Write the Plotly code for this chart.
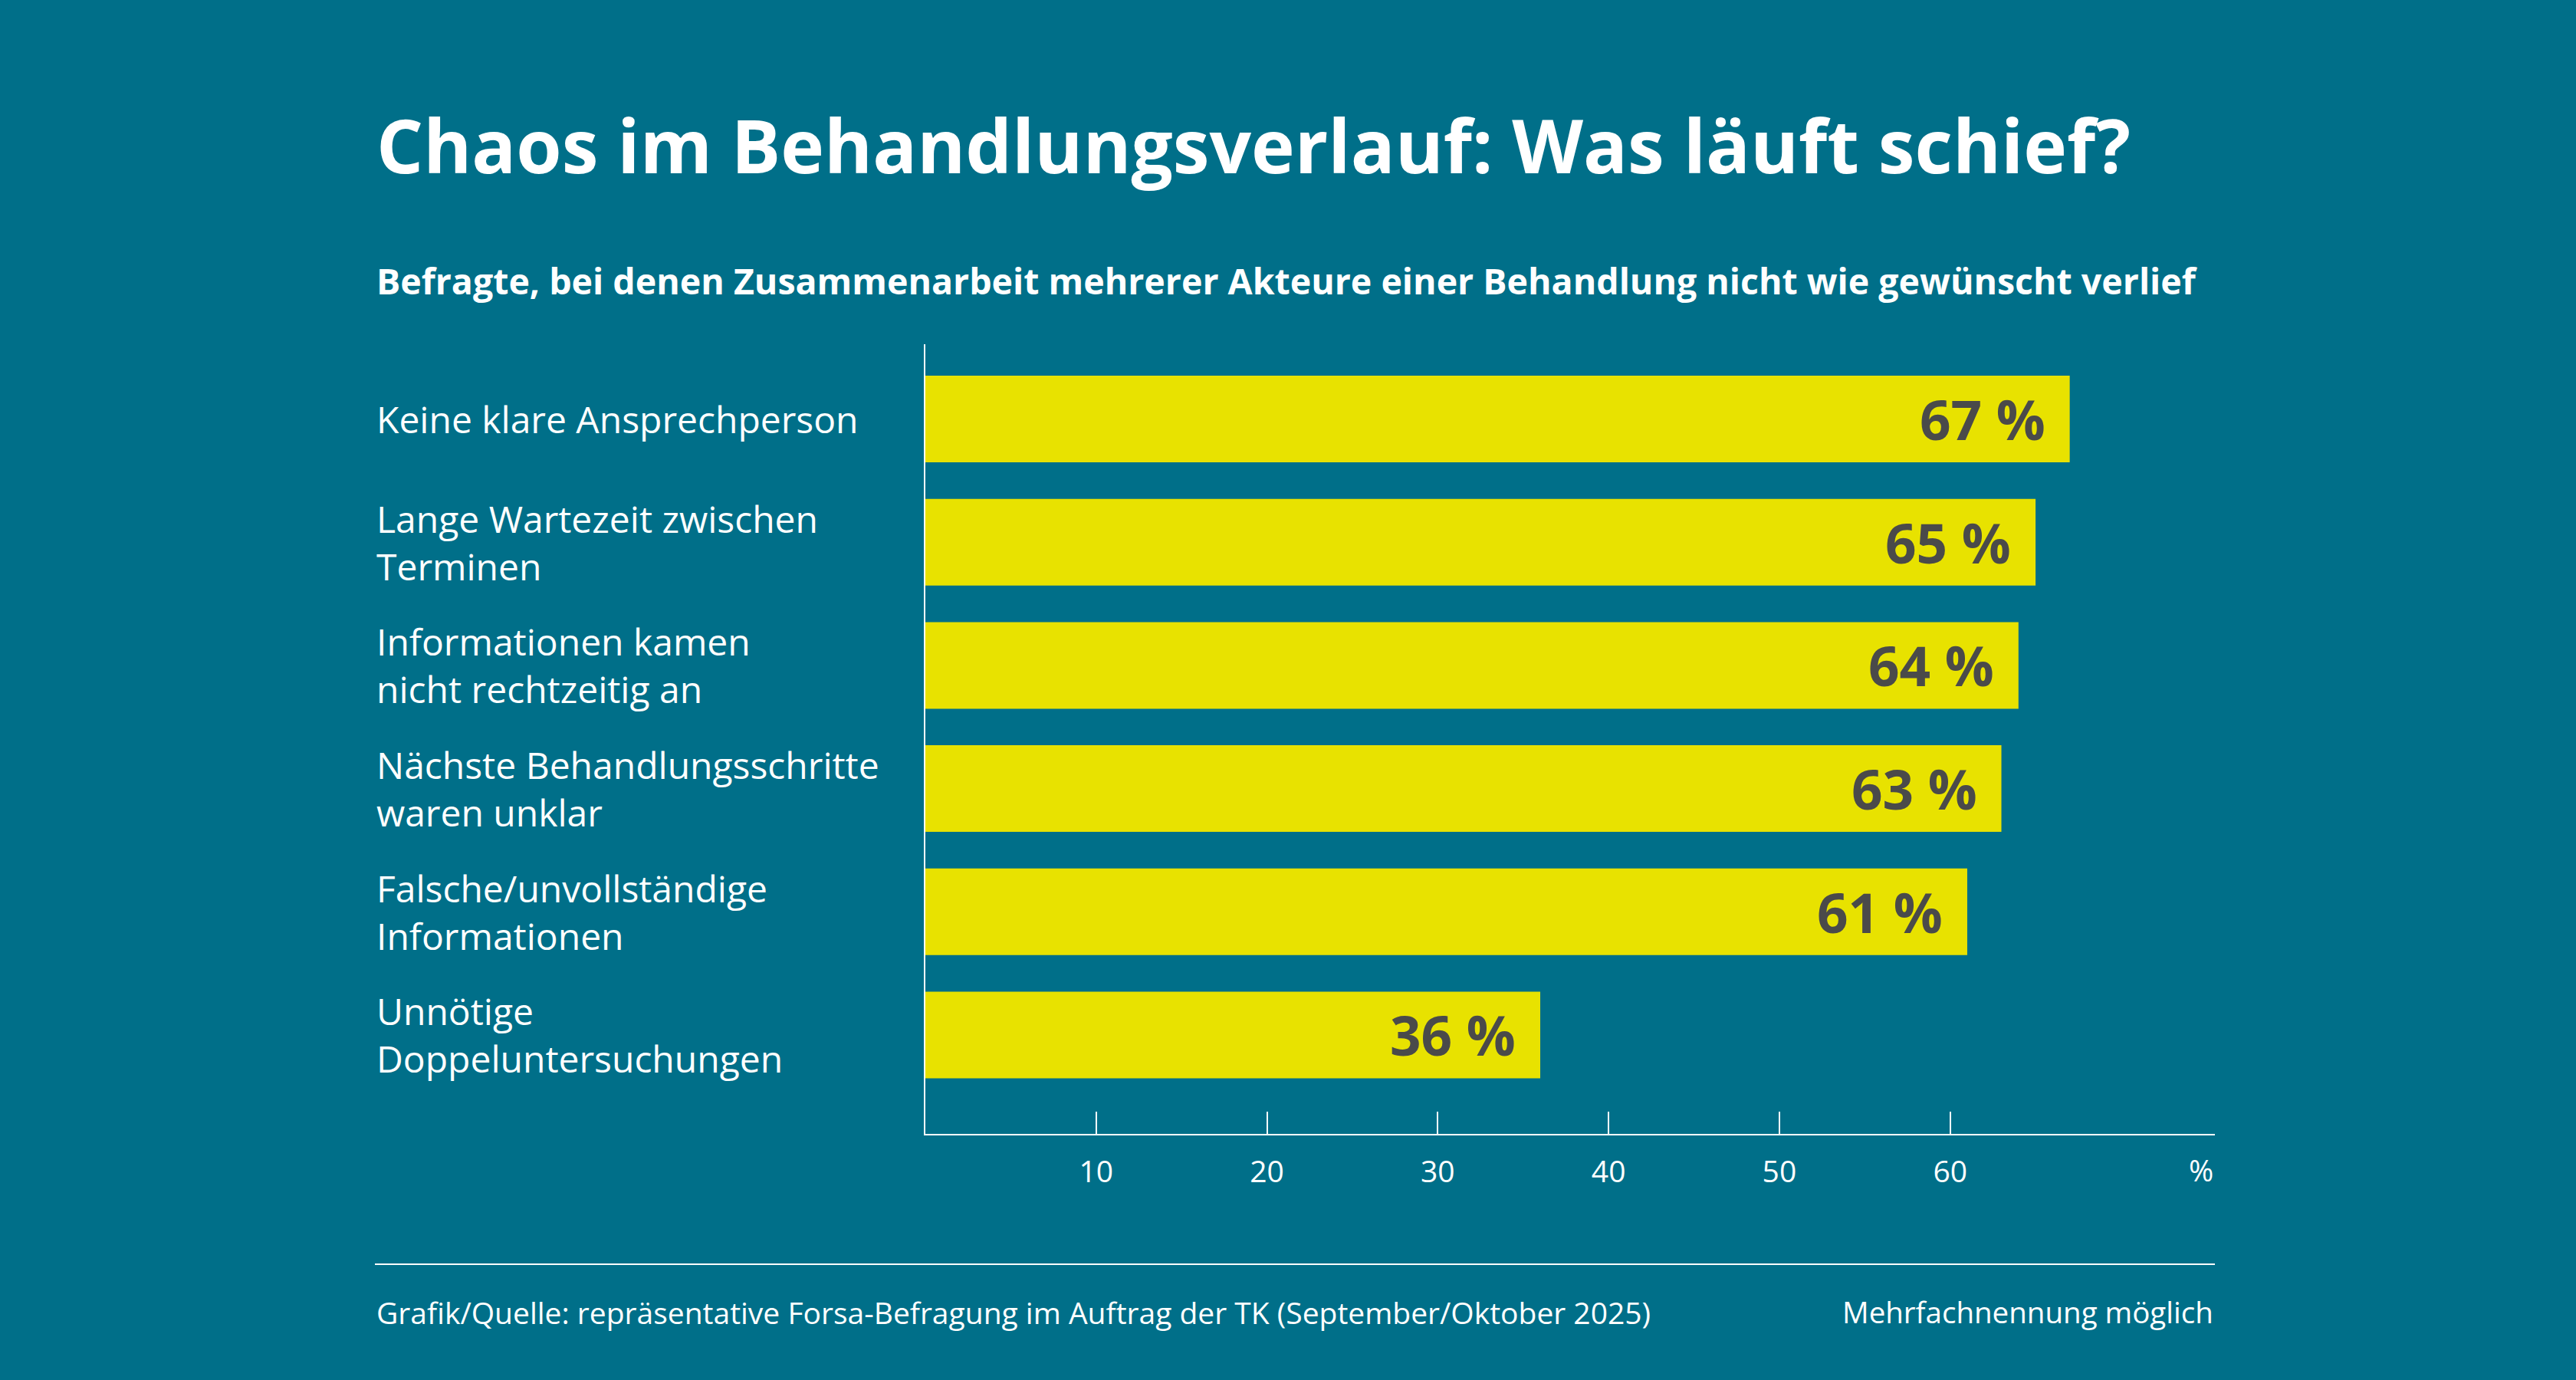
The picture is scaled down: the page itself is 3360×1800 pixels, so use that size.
import plotly.graph_objects as go

categories = [
    "Keine klare Ansprechperson",
    "Lange Wartezeit zwischen<br>Terminen",
    "Informationen kamen<br>nicht rechtzeitig an",
    "Nächste Behandlungsschritte<br>waren unklar",
    "Falsche/unvollständige<br>Informationen",
    "Unnötige<br>Doppeluntersuchungen",
]
values = [67, 65, 64, 63, 61, 36]
tick_values = [10, 20, 30, 40, 50, 60]
tick_labels = ["10", "20", "30", "40", "50", "60"]

title = "Chaos im Behandlungsverlauf: Was läuft schief?"
subtitle = "Befragte, bei denen Zusammenarbeit mehrerer Akteure einer Behandlung nicht wie gewünscht verlief"
source = "Grafik/Quelle: repräsentative Forsa-Befragung im Auftrag der TK (September/Oktober 2025)"
note = "Mehrfachnennung möglich"

W, H = 3360, 1800
BG = "#006F89"
BAR = "#E8E200"
LABEL = "#4A4A4A"
FONT = "Open Sans"

positions = list(range(len(categories)))

fig = go.Figure()
fig.add_trace(go.Bar(
    x=values, y=positions, orientation="h",
    marker=dict(color=BAR, line=dict(width=0)),
    width=0.703, hoverinfo="skip",
))

XL, XR = 489 / W, 2889 / W
PX0, PX1 = 1207 / W, 2889 / W
PY0, PY1 = 1 - 1479 / H, 1 - 449 / H

ann = []
for p, c in zip(positions, categories):
    ann.append(dict(x=XL, xref="paper", y=p, yref="y", text=c, showarrow=False,
                    xanchor="left", yanchor="middle", align="left",
                    font=dict(family=FONT, size=48, color="white")))
for p, v in zip(positions, values):
    ann.append(dict(x=v, xref="x", y=p, yref="y", text=f"<b>{v} %</b>", showarrow=False,
                    xanchor="right", yanchor="middle", xshift=-30,
                    font=dict(family=FONT, size=71, color=LABEL)))

ann.append(dict(x=XL, xref="paper", y=1 - 188 / H, yref="paper", text=f"<b>{title}</b>",
                showarrow=False, xanchor="left", yanchor="middle",
                font=dict(family=FONT, size=96, color="white")))
ann.append(dict(x=XL, xref="paper", y=1 - 366 / H, yref="paper", text=f"<b>{subtitle}</b>",
                showarrow=False, xanchor="left", yanchor="middle",
                font=dict(family=FONT, size=46.5, color="white")))
ann.append(dict(x=XR, xref="paper", y=1 - 1525 / H, yref="paper", text="%",
                showarrow=False, xanchor="right", yanchor="middle",
                font=dict(family=FONT, size=39, color="white")))
ann.append(dict(x=XL, xref="paper", y=1 - 1711 / H, yref="paper", text=source,
                showarrow=False, xanchor="left", yanchor="middle",
                font=dict(family=FONT, size=39, color="white")))
ann.append(dict(x=XR, xref="paper", y=1 - 1711 / H, yref="paper", text=note,
                showarrow=False, xanchor="right", yanchor="middle",
                font=dict(family=FONT, size=38.5, color="white")))

fig.update_layout(
    width=W, height=H,
    paper_bgcolor=BG, plot_bgcolor=BG,
    margin=dict(l=0, r=0, t=0, b=0),
    showlegend=False,
    annotations=ann,
    shapes=[dict(type="line", xref="paper", yref="paper", x0=XL, x1=XR,
                 y0=1 - 1649 / H, y1=1 - 1649 / H, line=dict(color="white", width=2))],
    xaxis=dict(domain=[PX0, PX1], range=[0, 75.5], showgrid=False, zeroline=False,
               showline=True, linecolor="white", linewidth=2,
               ticks="inside", ticklen=29, tickwidth=2, tickcolor="white",
               tickvals=tick_values, ticktext=tick_labels, ticklabelstandoff=14,
               tickfont=dict(family=FONT, size=39, color="white"), fixedrange=True),
    yaxis=dict(domain=[PY0, PY1], range=[5.803, -0.607], showgrid=False, zeroline=False,
               showline=True, linecolor="white", linewidth=2, showticklabels=False,
               ticks="", fixedrange=True),
)

fig.write_html(
    "out.html",
    config={"displayModeBar": False},
    post_script="document.body.style.margin='0';document.body.style.overflow='hidden';document.body.style.background='" + BG + "';",
)
